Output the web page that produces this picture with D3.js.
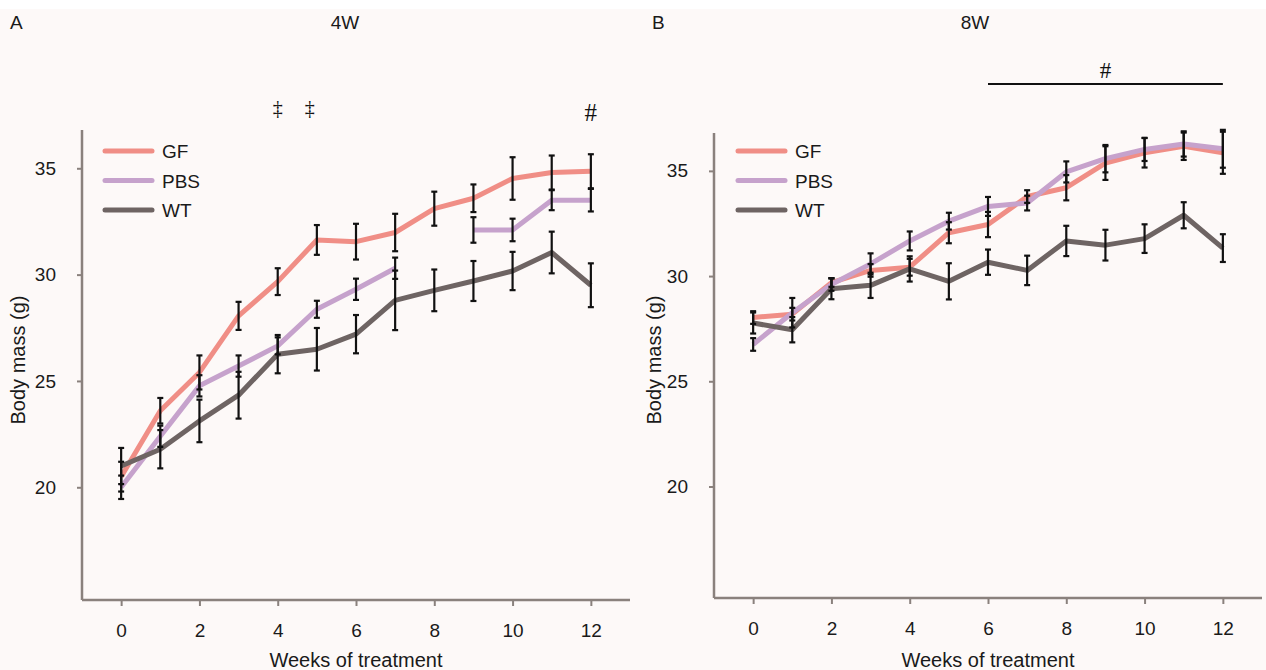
<!DOCTYPE html>
<html>
<head>
<meta charset="utf-8">
<script src="https://cdn.jsdelivr.net/npm/d3@7/dist/d3.min.js"></script>
<style>
  html, body { margin: 0; padding: 0; background: #FFFFFF; }
  svg { display: block; font-family: "Liberation Sans", Arial, sans-serif; }
</style>
</head>
<body>
<svg id="chart" width="1266" height="670"></svg>
<script>
// ---------- data ----------
const weeks = [0,1,2,3,4,5,6,7,8,9,10,11,12];
const seriesNames = ["GF", "PBS", "WT"];
const seriesColors = ["#F08E86", "#C6A2CC", "#6E6463"];
const xTicks = [0,2,4,6,8,10,12];
const yTicks = [20,25,30,35];

// Panel A (4W)
const gfA   = [20.5, 23.6, 25.4, 28.06, 29.67, 31.63, 31.55, 31.98, 33.1, 33.59, 34.52, 34.8, 34.86];
const gfAErr= [0.7, 0.6, 0.8, 0.66, 0.63, 0.7, 0.84, 0.88, 0.8, 0.65, 1.0, 0.8, 0.8];
const pbsA  = [20.0, 22.4, 24.77, 25.7, 26.65, 28.37, 29.31, 30.3, null, 32.1, 32.1, 33.5, 33.5];
const pbsAErr=[0.55, 0.5, 0.5, 0.5, 0.4, 0.4, 0.5, 0.5, null, 0.6, 0.53, 0.47, 0.53];
const wtA   = [21.0, 21.79, 23.12, 24.33, 26.26, 26.49, 27.2, 28.79, 29.26, 29.7, 30.17, 31.04, 29.5];
const wtAErr= [0.85, 0.9, 1.0, 1.1, 0.9, 1.0, 0.9, 1.4, 0.98, 0.94, 0.9, 0.98, 1.03];
const daggerWeeksA = [4, 4.82];   // positions of the "‡" marks
const hashWeekA = 12;             // position of the "#" mark

// Panel B (8W)
const gfB   = [28.03, 28.19, 29.69, 30.27, 30.42, 32.06, 32.45, 33.78, 34.2, 35.37, 35.86, 36.17, 35.86];
const gfBErr= [0.3, 0.3, 0.2, 0.3, 0.4, 0.5, 0.6, 0.3, 0.6, 0.8, 0.7, 0.65, 1.0];
const pbsB  = [26.75, 28.26, 29.6, 30.58, 31.67, 32.61, 33.31, 33.47, 34.95, 35.58, 36.02, 36.28, 36.05];
const pbsBErr=[0.3, 0.7, 0.3, 0.5, 0.45, 0.4, 0.45, 0.35, 0.5, 0.65, 0.55, 0.6, 0.9];
const wtB   = [27.77, 27.45, 29.4, 29.56, 30.34, 29.75, 30.66, 30.27, 31.67, 31.47, 31.78, 32.89, 31.33];
const wtBErr= [0.5, 0.6, 0.5, 0.6, 0.6, 0.86, 0.6, 0.7, 0.72, 0.73, 0.68, 0.62, 0.66];
const hashSpanB = [6, 12];        // span of the "#" bracket

const panels = [
  { letter: "A", title: "4W", series: [[gfA,gfAErr],[pbsA,pbsAErr],[wtA,wtAErr]],
    x0: 82, x1: 630, yTop: 130, yBot: 600, letterX: 10, titleX: 345, ylabX: 25, legX: 105 },
  { letter: "B", title: "8W", series: [[gfB,gfBErr],[pbsB,pbsBErr],[wtB,wtBErr]],
    x0: 714, x1: 1262, yTop: 133, yBot: 598, letterX: 652, titleX: 975, ylabX: 661, legX: 738 }
];

const svg = d3.select("#chart");
svg.append("rect").attr("x", 0).attr("y", 9).attr("width", 1266).attr("height", 661).attr("fill", "#FDF9F8");
const axisColor = "#8A817D";
const textColor = "#1a1a1a";

panels.forEach((p, pi) => {
  const x = d3.scaleLinear().domain([-1, 13]).range([p.x0, p.x1]);
  const y = d3.scaleLinear().domain([14.7, 36.8]).range([p.yBot, p.yTop]);

  const g = svg.append("g");

  // Titles
  g.append("text").attr("x", p.letterX).attr("y", 29).attr("font-size", 19).attr("fill", textColor).text(p.letter);
  g.append("text").attr("x", p.titleX).attr("y", 29).attr("text-anchor", "middle").attr("font-size", 19).attr("fill", textColor).text(p.title);

  // Axes
  const xa = g.append("g").attr("transform", `translate(0,${p.yBot})`)
    .call(d3.axisBottom(x).tickValues(xTicks).tickSize(6).tickSizeOuter(0).tickPadding(18));
  const ya = g.append("g").attr("transform", `translate(${p.x0},0)`)
    .call(d3.axisLeft(y).tickValues(yTicks).tickSize(5).tickSizeOuter(0).tickPadding(21));
  [xa, ya].forEach(a => {
    a.select(".domain").attr("stroke", axisColor).attr("stroke-width", 2.5);
    a.selectAll(".tick line").attr("stroke", axisColor).attr("stroke-width", 2);
    a.selectAll(".tick text").attr("font-size", 19).attr("fill", textColor)
      .attr("font-family", "Liberation Sans, Arial, sans-serif");
  });
  xa.select(".domain").attr("d", `M${p.x0},0H${p.x1}`);
  ya.select(".domain").attr("d", `M0,${p.yBot}V${p.yTop}`);

  // Axis labels
  g.append("text").attr("x", x(6)).attr("y", 667).attr("text-anchor", "middle")
    .attr("font-size", 20).attr("fill", textColor).text("Weeks of treatment");
  g.append("text").attr("transform", `translate(${p.ylabX},${360}) rotate(-90)`).attr("text-anchor", "middle")
    .attr("font-size", 20).attr("fill", textColor).text("Body mass (g)");

  // Lines
  p.series.forEach((s, si) => {
    const vals = s[0];
    const line = d3.line().defined(d => d[1] !== null).x(d => x(d[0])).y(d => y(d[1]));
    g.append("path").datum(weeks.map((w, i) => [w, vals[i]]))
      .attr("d", line).attr("fill", "none").attr("stroke", seriesColors[si])
      .attr("stroke-width", 5).attr("stroke-linejoin", "round");
  });

  // Error bars
  p.series.forEach((s, si) => {
    const vals = s[0], errs = s[1];
    const data = weeks.map((w, i) => ({ w, v: vals[i], e: errs[i] })).filter(d => d.v !== null);
    const eg = g.append("g").attr("stroke", "#111").attr("stroke-width", 2.2);
    eg.selectAll("line.v").data(data).join("line")
      .attr("x1", d => x(d.w)).attr("x2", d => x(d.w))
      .attr("y1", d => y(d.v - d.e)).attr("y2", d => y(d.v + d.e));
    eg.selectAll("line.t").data(data).join("line")
      .attr("x1", d => x(d.w) - 3).attr("x2", d => x(d.w) + 3)
      .attr("y1", d => y(d.v + d.e)).attr("y2", d => y(d.v + d.e));
    eg.selectAll("line.b").data(data).join("line")
      .attr("x1", d => x(d.w) - 3).attr("x2", d => x(d.w) + 3)
      .attr("y1", d => y(d.v - d.e)).attr("y2", d => y(d.v - d.e));
  });

  // Legend
  seriesNames.forEach((n, si) => {
    const ly = 151 + si * 29.5;
    g.append("line").attr("x1", p.legX).attr("x2", p.legX + 47).attr("y1", ly).attr("y2", ly)
      .attr("stroke", seriesColors[si]).attr("stroke-width", 5).attr("stroke-linecap", "round");
    g.append("text").attr("x", p.legX + 57).attr("y", ly + 7).attr("font-size", 19).attr("fill", textColor).text(n);
  });

  // Annotations
  if (pi === 0) {
    daggerWeeksA.forEach(w => {
      g.append("text").attr("x", x(w)).attr("y", 115).attr("text-anchor", "middle")
        .attr("font-family", "Liberation Serif, serif").attr("font-size", 20).attr("fill", "#111").text("\u2021");
    });
    g.append("text").attr("x", x(hashWeekA)).attr("y", 121).attr("text-anchor", "middle")
      .attr("font-family", "Liberation Serif, serif").attr("font-size", 25).attr("fill", "#111").text("#");
  } else {
    g.append("line").attr("x1", x(hashSpanB[0])).attr("x2", x(hashSpanB[1])).attr("y1", 84).attr("y2", 84)
      .attr("stroke", "#111").attr("stroke-width", 2);
    g.append("text").attr("x", x((hashSpanB[0] + hashSpanB[1]) / 2)).attr("y", 78).attr("text-anchor", "middle")
      .attr("font-family", "Liberation Serif, serif").attr("font-size", 23).attr("fill", "#111").text("#");
  }
});
</script>
</body>
</html>
